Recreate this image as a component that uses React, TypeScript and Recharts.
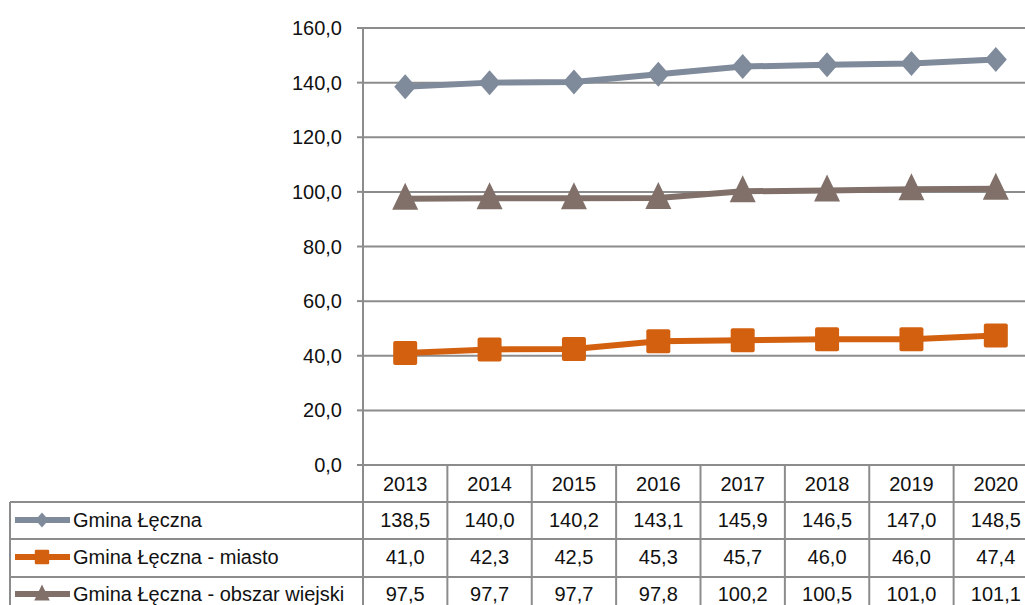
import * as React from "react"
import { CartesianGrid, Line, LineChart, XAxis, YAxis } from "recharts"

const years = ["2013", "2014", "2015", "2016", "2017", "2018", "2019", "2020"]
const gmina = [138.5, 140.0, 140.2, 143.1, 145.9, 146.5, 147.0, 148.5]
const miasto = [41.0, 42.3, 42.5, 45.3, 45.7, 46.0, 46.0, 47.4]
const wies = [97.5, 97.7, 97.7, 97.8, 100.2, 100.5, 101.0, 101.1]
const yTicks = [0, 20, 40, 60, 80, 100, 120, 140, 160]

const seriesNames = ["Gmina Łęczna", "Gmina Łęczna - miasto", "Gmina Łęczna - obszar wiejski"]
const seriesKeys = ["gmina", "miasto", "wies"]
const seriesColors = ["#7f8a9b", "#d2600f", "#807069"]

const data = years.map((year, i) => ({
  year,
  gmina: gmina[i],
  miasto: miasto[i],
  wies: wies[i],
}))

const CHART_W = 1040
const CHART_H = 620
const Y_W = 363
const X_H = 155
const MARGIN = { top: 28, right: 2, left: 0, bottom: 0 }
const PLOT_BOTTOM = CHART_H - X_H - MARGIN.bottom
const BAND = (CHART_W - Y_W - MARGIN.left - MARGIN.right) / years.length
const ROW_LINES = [502, 539, 577]
const ROW_CENTERS = [520, 557, 594]
const GRID = "#8c8c8c"
const FONT = "'Liberation Sans', Arial, sans-serif"

const fmt = (v: number) => v.toFixed(1).replace(".", ",")

const Marker = ({ kind, cx, cy, color, s = 1 }: any) => {
  if (cx == null || cy == null) return null
  if (kind === 0) {
    const w = 11 * s
    const h = 12.5 * s
    return <polygon points={`${cx},${cy - h} ${cx + w},${cy} ${cx},${cy + h} ${cx - w},${cy}`} fill={color} />
  }
  if (kind === 1) {
    const h = 12 * s
    return <rect x={cx - h} y={cy - h} width={h * 2} height={h * 2} rx={2 * s} fill={color} />
  }
  const w = 13 * s
  return <polygon points={`${cx},${cy - 16 * s} ${cx + w},${cy + 11 * s} ${cx - w},${cy + 11 * s}`} fill={color} />
}

const TableTick = (props: any) => {
  const { x, payload, index } = props
  const i = payload.index ?? index
  const left = x - BAND / 2
  const right = x + BAND / 2
  const rows = [gmina, miasto, wies]
  return (
    <g fontFamily={FONT} fontSize={20} fill="#111">
      {i === 0 && (
        <g>
          <line x1={left} y1={PLOT_BOTTOM} x2={left} y2={CHART_H} stroke={GRID} strokeWidth={2} />
          <line x1={10} y1={ROW_LINES[0]} x2={10} y2={CHART_H} stroke={GRID} strokeWidth={2} />
          {ROW_LINES.map((ly) => (
            <line key={ly} x1={10} y1={ly} x2={CHART_W} y2={ly} stroke={GRID} strokeWidth={2} />
          ))}
          {seriesNames.map((name, r) => (
            <g key={name}>
              <line x1={15} y1={ROW_CENTERS[r]} x2={70} y2={ROW_CENTERS[r]} stroke={seriesColors[r]} strokeWidth={6} />
              <Marker kind={r} cx={42} cy={ROW_CENTERS[r]} color={seriesColors[r]} s={0.6} />
              <text x={73} y={ROW_CENTERS[r]} dy="0.36em" textAnchor="start" fill="#111">
                {name}
              </text>
            </g>
          ))}
        </g>
      )}
      <line x1={right} y1={PLOT_BOTTOM} x2={right} y2={CHART_H} stroke={GRID} strokeWidth={2} />
      <text x={x} y={484} dy="0.36em" textAnchor="middle" fill="#111">
        {payload.value}
      </text>
      {rows.map((vals, r) => (
        <text key={r} x={x} y={ROW_CENTERS[r]} dy="0.36em" textAnchor="middle" fill="#111">
          {fmt(vals[i])}
        </text>
      ))}
    </g>
  )
}

export default function App() {
  return (
    <div
      style={{
        position: "absolute",
        left: 0,
        top: 0,
        width: 1025,
        height: 605,
        overflow: "hidden",
        background: "#fff",
      }}
    >
      <LineChart width={CHART_W} height={CHART_H} data={data} margin={MARGIN}>
        <CartesianGrid vertical={false} stroke={GRID} strokeWidth={2} />
        <XAxis
          dataKey="year"
          height={X_H}
          padding={{ left: BAND / 2, right: BAND / 2 }}
          axisLine={{ stroke: GRID, strokeWidth: 2 }}
          tickLine={false}
          interval={0}
          tick={<TableTick />}
        />
        <YAxis
          width={Y_W}
          domain={[0, 160]}
          ticks={yTicks}
          tickFormatter={fmt}
          axisLine={{ stroke: GRID, strokeWidth: 2 }}
          tickLine={{ stroke: GRID, strokeWidth: 2 }}
          tickSize={6}
          tickMargin={15}
          tick={{ fontFamily: FONT, fontSize: 20, fill: "#111" }}
        />
        {seriesKeys.map((k, r) => (
          <Line
            key={k}
            dataKey={k}
            stroke={seriesColors[r]}
            strokeWidth={6}
            isAnimationActive={false}
            dot={(p: any) => <Marker key={p.index} kind={r} cx={p.cx} cy={p.cy} color={seriesColors[r]} />}
            activeDot={false}
          />
        ))}
      </LineChart>
    </div>
  )
}
